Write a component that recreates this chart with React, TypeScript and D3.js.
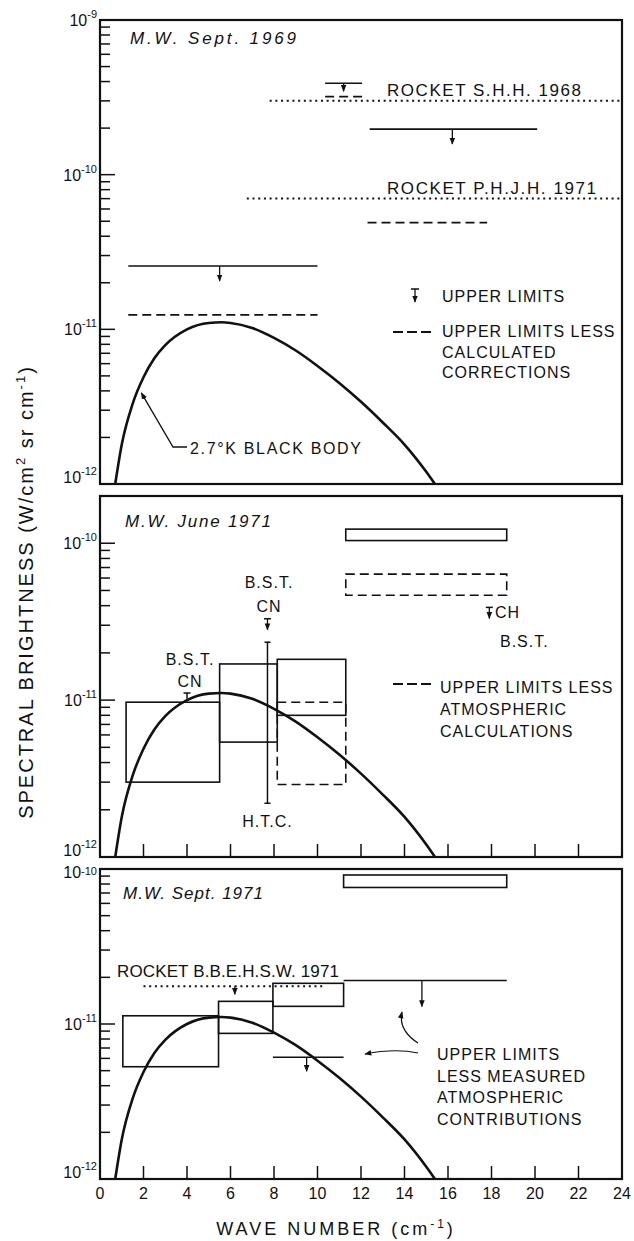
import React from "react";
import * as d3 from "d3";

// 2.7 K black body (wave number in cm^-1, W/cm^2 sr cm^-1)
const bbWave = [0.7, 1, 1.5, 2, 2.5, 3, 4, 5, 5.6, 6, 7, 8, 9, 10, 11, 12, 13, 14, 15, 15.4];
const bbFlux = [
  1.0e-12, 1.8e-12, 3.3e-12, 4.9e-12, 6.5e-12, 7.9e-12, 1.0e-11, 1.1e-11, 1.11e-11, 1.1e-11,
  1.02e-11, 8.8e-12, 7.3e-12, 5.8e-12, 4.5e-12, 3.4e-12, 2.5e-12, 1.8e-12, 1.2e-12, 1.0e-12,
];

const xTicks = [0, 2, 4, 6, 8, 10, 12, 14, 16, 18, 20, 22, 24];

// M.W. Sept. 1969
const sep69Limits = [
  { from: 1.3, to: 10.0, value: 2.57e-11, arrowAt: 5.5 },
  { from: 12.4, to: 20.1, value: 1.97e-10, arrowAt: 16.2 },
  { from: 10.35, to: 12.05, value: 3.9e-10, arrowAt: 11.2 },
];
const sep69Corrected = [
  { from: 1.3, to: 10.0, value: 1.24e-11 },
  { from: 12.3, to: 17.8, value: 4.9e-11 },
  { from: 10.35, to: 12.05, value: 3.2e-10 },
];
const sep69Rockets = [
  { from: 7.8, to: 24, value: 3.0e-10, label: "ROCKET S.H.H. 1968" },
  { from: 6.75, to: 24, value: 7.0e-11, label: "ROCKET P.H.J.H. 1971" },
];

// M.W. June 1971
const jun71Boxes = [
  { from: 1.2, to: 5.5, low: 3.0e-12, high: 9.7e-12 },
  { from: 5.5, to: 8.15, low: 5.4e-12, high: 1.7e-11 },
  { from: 8.15, to: 11.3, low: 8.0e-12, high: 1.82e-11 },
  { from: 11.3, to: 18.7, low: 1.04e-10, high: 1.23e-10 },
];
const jun71Corrected = [
  { from: 8.15, to: 11.3, low: 2.9e-12, high: 9.7e-12 },
  { from: 11.3, to: 18.7, low: 4.66e-11, high: 6.35e-11 },
];
const jun71Htc = { at: 7.7, low: 2.2e-12, high: 2.34e-11 };
const jun71Bst = [
  { at: 7.7, value: 3.3e-11 },
  { at: 17.9, value: 3.9e-11 },
];
const jun71BstLow = { at: 4.0, low: 1.02e-11, high: 1.11e-11 };

// M.W. Sept. 1971
const sep71Boxes = [
  { from: 1.05, to: 5.45, low: 5.3e-12, high: 1.13e-11 },
  { from: 5.45, to: 7.95, low: 8.7e-12, high: 1.4e-11 },
  { from: 7.95, to: 11.2, low: 1.3e-11, high: 1.83e-11 },
  { from: 11.2, to: 18.7, low: 7.6e-11, high: 9.15e-11 },
];
const sep71Limits = [
  { from: 11.2, to: 18.7, value: 1.91e-11, arrowAt: 14.8 },
  { from: 7.95, to: 11.2, value: 6.1e-12, arrowAt: 9.5 },
];
const sep71Rocket = { from: 2.0, to: 10.3, value: 1.75e-11, arrowAt: 6.2, label: "ROCKET B.B.E.H.S.W. 1971" };

const panels = [
  { top: 20, bottom: 484, max: 1e-9, xTicks: false },
  { top: 496, bottom: 857, max: 2e-10, xTicks: true },
  { top: 869, bottom: 1179, max: 1e-10, xTicks: true },
];

const font = "'Liberation Sans', Arial, sans-serif";
const ink = "#111";

export default function App() {
  const x = d3.scaleLinear().domain([0, 24]).range([100, 622]);
  const ys = panels.map((p) => d3.scaleLog().domain([1e-12, p.max]).range([p.bottom, p.top]));
  const pts = bbWave.map((w, i) => [w, bbFlux[i]] as [number, number]);
  const curve = (y) =>
    d3.line<[number, number]>().x((d) => x(d[0])).y((d) => y(d[1])).curve(d3.curveMonotoneX)(pts);

  const arrow = (cx, y0, len, key?) => (
    <line key={key} x1={cx} x2={cx} y1={y0} y2={y0 + len} stroke={ink} strokeWidth={1.3} markerEnd="url(#ah)" />
  );

  const axis = (p, i) => {
    const y = ys[i];
    const ticks = y.ticks();
    return (
      <g key={"ax" + i}>
        <rect x={100} y={p.top} width={522} height={p.bottom - p.top} fill="none" stroke={ink} strokeWidth={2.2} />
        {ticks.map((t) => {
          const lg = Math.log10(t);
          const major = Math.abs(lg - Math.round(lg)) < 1e-6;
          const atBottom = Math.abs(y(t) - p.bottom) < 1;
          const squeezedTop = i === 2 && Math.abs(y(t) - p.top) < 1;
          const base = atBottom ? y(t) - 1 : squeezedTop ? y(t) + 9 : y(t) + 6;
          return (
            <g key={t}>
              <line x1={100} x2={100 + (major ? 15 : 10)} y1={y(t)} y2={y(t)} stroke={ink} strokeWidth={1.5} />
              {major && (
                <text x={97} y={base} textAnchor="end" fontSize={16} fontFamily={font} fill={ink}>
                  10<tspan dy={squeezedTop ? -3 : -8} fontSize={11}>{"-" + Math.abs(Math.round(lg))}</tspan>
                </text>
              )}
            </g>
          );
        })}
        {p.xTicks &&
          xTicks.slice(1, -1).map((t) => (
            <line key={"xt" + t} x1={x(t)} x2={x(t)} y1={p.bottom} y2={p.bottom - 13} stroke={ink} strokeWidth={1.5} />
          ))}
        <path d={curve(y)} fill="none" stroke={ink} strokeWidth={2.6} />
      </g>
    );
  };

  const box = (b, y, dashed, key) => (
    <rect
      key={key}
      x={x(b.from)}
      y={y(b.high)}
      width={x(b.to) - x(b.from)}
      height={y(b.low) - y(b.high)}
      fill="none"
      stroke={ink}
      strokeWidth={1.6}
      strokeDasharray={dashed ? "9 5" : undefined}
    />
  );

  const t = (props, children) => (
    <text fontFamily={font} fill={ink} fontSize={16} letterSpacing={1} {...props}>
      {children}
    </text>
  );
  const title = (props, children) => (
    <text fontFamily={font} fill={ink} fontSize={17} fontStyle="italic" letterSpacing={2} {...props}>
      {children}
    </text>
  );

  const [y1, y2, y3] = ys;

  return (
    <svg width={634} height={1241} style={{ position: "absolute", left: 0, top: 0, background: "#fff" }}>
      <defs>
        <marker id="ah" viewBox="0 0 10 10" refX={9} refY={5} markerWidth={7} markerHeight={7} markerUnits="userSpaceOnUse" orient="auto">
          <path d="M0,1 L10,5 L0,9 Z" fill={ink} />
        </marker>
      </defs>
      <rect width={634} height={1241} fill="#fff" />
      {panels.map(axis)}

      {/* ---- panel 1: M.W. Sept. 1969 ---- */}
      {title({ x: 130, y: 44, textLength: 168 }, "M.W. Sept. 1969")}
      {sep69Rockets.map((r, i) => (
        <g key={"r" + i}>
          <line x1={x(r.from)} x2={x(r.to)} y1={y1(r.value)} y2={y1(r.value)} stroke={ink} strokeWidth={2} strokeDasharray="2 3.7" />
          {t({ x: 387, y: y1(r.value) - 5, fontSize: 17, textLength: i === 0 ? 195 : 210 }, r.label)}
        </g>
      ))}
      {sep69Limits.map((l, i) => (
        <g key={"l" + i}>
          <line x1={x(l.from)} x2={x(l.to)} y1={y1(l.value)} y2={y1(l.value)} stroke={ink} strokeWidth={1.6} />
          {arrow(x(l.arrowAt), y1(l.value), i === 2 ? 8 : 15)}
        </g>
      ))}
      {sep69Corrected.map((l, i) => (
        <line key={"c" + i} x1={x(l.from)} x2={x(l.to)} y1={y1(l.value)} y2={y1(l.value)} stroke={ink} strokeWidth={1.8} strokeDasharray="9 5" />
      ))}
      <line x1={411} x2={419} y1={289} y2={289} stroke={ink} strokeWidth={1.5} />
      {arrow(415, 289, 13)}
      {t({ x: 442, y: 302 }, "UPPER LIMITS")}
      <line x1={393} x2={431} y1={332} y2={332} stroke={ink} strokeWidth={1.8} strokeDasharray="10 4" />
      {t({ x: 442, y: 337 }, "UPPER LIMITS LESS")}
      {t({ x: 442, y: 358 }, "CALCULATED")}
      {t({ x: 442, y: 378 }, "CORRECTIONS")}
      <path d={`M187,447 L173,447 L${x(1.9)},${y1(4.0e-12) + 2}`} fill="none" stroke={ink} strokeWidth={1.3} markerEnd="url(#ah)" />
      {t({ x: 190, y: 454, textLength: 172 }, "2.7°K BLACK BODY")}

      {/* ---- panel 2: M.W. June 1971 ---- */}
      {title({ x: 125, y: 527, textLength: 148 }, "M.W. June 1971")}
      {jun71Corrected.map((b, i) => box(b, y2, true, "jc" + i))}
      {jun71Boxes.map((b, i) => box(b, y2, false, "jb" + i))}
      <line x1={x(jun71Htc.at)} x2={x(jun71Htc.at)} y1={y2(jun71Htc.high)} y2={y2(jun71Htc.low)} stroke={ink} strokeWidth={1.5} />
      <line x1={x(jun71Htc.at) - 3} x2={x(jun71Htc.at) + 3} y1={y2(jun71Htc.high)} y2={y2(jun71Htc.high)} stroke={ink} strokeWidth={1.5} />
      <line x1={x(jun71Htc.at) - 3} x2={x(jun71Htc.at) + 3} y1={y2(jun71Htc.low)} y2={y2(jun71Htc.low)} stroke={ink} strokeWidth={1.5} />
      {t({ x: x(jun71Htc.at), y: 827, textAnchor: "middle" }, "H.T.C.")}
      {jun71Bst.map((b, i) => (
        <g key={"bst" + i}>
          <line x1={x(b.at) - 3.5} x2={x(b.at) + 3.5} y1={y2(b.value)} y2={y2(b.value)} stroke={ink} strokeWidth={1.5} />
          {arrow(x(b.at), y2(b.value), 11)}
        </g>
      ))}
      <line x1={x(jun71BstLow.at)} x2={x(jun71BstLow.at)} y1={y2(jun71BstLow.high)} y2={y2(jun71BstLow.low)} stroke={ink} strokeWidth={1.5} />
      <line x1={x(jun71BstLow.at) - 3.5} x2={x(jun71BstLow.at) + 3.5} y1={y2(jun71BstLow.high)} y2={y2(jun71BstLow.high)} stroke={ink} strokeWidth={1.5} />
      {t({ x: 269, y: 588, textAnchor: "middle" }, "B.S.T.")}
      {t({ x: 269, y: 612, textAnchor: "middle" }, "CN")}
      {t({ x: 190, y: 665, textAnchor: "middle" }, "B.S.T.")}
      {t({ x: 190, y: 687, textAnchor: "middle" }, "CN")}
      {t({ x: 495, y: 618 }, "CH")}
      {t({ x: 500, y: 647 }, "B.S.T.")}
      <line x1={393} x2={432} y1={684} y2={684} stroke={ink} strokeWidth={1.8} strokeDasharray="10 4" />
      {t({ x: 440, y: 693 }, "UPPER LIMITS LESS")}
      {t({ x: 440, y: 715 }, "ATMOSPHERIC")}
      {t({ x: 440, y: 737 }, "CALCULATIONS")}

      {/* ---- panel 3: M.W. Sept. 1971 ---- */}
      {title({ x: 123, y: 899, textLength: 142 }, "M.W. Sept. 1971")}
      {sep71Boxes.map((b, i) => box(b, y3, false, "sb" + i))}
      {sep71Limits.map((l, i) => (
        <g key={"sl" + i}>
          <line x1={x(l.from)} x2={x(l.to)} y1={y3(l.value)} y2={y3(l.value)} stroke={ink} strokeWidth={1.6} />
          {arrow(x(l.arrowAt), y3(l.value), i === 0 ? 26 : 14)}
        </g>
      ))}
      <line x1={x(sep71Rocket.from)} x2={x(sep71Rocket.to)} y1={y3(sep71Rocket.value)} y2={y3(sep71Rocket.value)} stroke={ink} strokeWidth={2} strokeDasharray="2 3.7" />
      {arrow(x(sep71Rocket.arrowAt), y3(sep71Rocket.value), 8)}
      {t({ x: 117, y: 977, fontSize: 17, textLength: 223 }, sep71Rocket.label)}
      <path d="M418,1043 Q398,1030 402,1012" fill="none" stroke={ink} strokeWidth={1.2} markerEnd="url(#ah)" />
      <path d="M418,1053 Q395,1048 365,1054" fill="none" stroke={ink} strokeWidth={1.2} markerEnd="url(#ah)" />
      {t({ x: 437, y: 1060 }, "UPPER LIMITS")}
      {t({ x: 437, y: 1082 }, "LESS MEASURED")}
      {t({ x: 437, y: 1103 }, "ATMOSPHERIC")}
      {t({ x: 437, y: 1125 }, "CONTRIBUTIONS")}

      {/* ---- shared axes text ---- */}
      {xTicks.map((v) => (
        <text key={"xl" + v} x={x(v)} y={1199} textAnchor="middle" fontSize={16} fontFamily={font} fill={ink}>
          {v}
        </text>
      ))}
      <text x={336} y={1235} textAnchor="middle" fontSize={18} letterSpacing={3} fontFamily={font} fill={ink}>
        WAVE NUMBER (cm<tspan dy={-7} fontSize={12}>-1</tspan>
        <tspan dy={7}>)</tspan>
      </text>
      <text transform="translate(33,592) rotate(-90)" textAnchor="middle" fontSize={20} letterSpacing={2} fontFamily={font} fill={ink}>
        SPECTRAL BRIGHTNESS (W/cm<tspan dy={-8} fontSize={13}>2</tspan>
        <tspan dy={8}> sr cm</tspan>
        <tspan dy={-8} fontSize={13}>-1</tspan>
        <tspan dy={8}>)</tspan>
      </text>
    </svg>
  );
}
